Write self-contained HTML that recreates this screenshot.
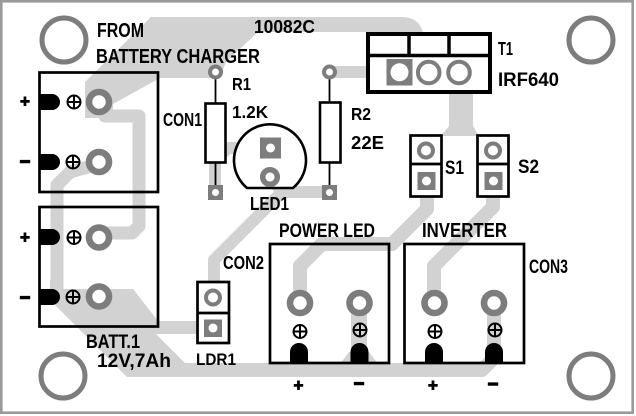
<!DOCTYPE html>
<html>
<head>
<meta charset="utf-8">
<style>
html,body{margin:0;padding:0;background:#fff;}
svg{display:block;}
text{font-family:"Liberation Sans",Arial,sans-serif;font-weight:bold;fill:#000;}
</style>
</head>
<body>
<svg width="636" height="416" viewBox="0 0 636 416" xmlns="http://www.w3.org/2000/svg">
<rect x="0" y="0" width="636" height="416" fill="#fff"/>
<rect x="1.3" y="1.3" width="631.4" height="411.4" fill="none" stroke="#9a9a9a" stroke-width="2.6"/>

<!-- traces -->
<g fill="#d2d2d2" stroke="none">
  <polygon points="151,17 258,17 258,32 226,62 220,78 160,78 113,104 113,118 85,118 85,82"/>
  <polygon points="50,280 64,289 133,289 158,321 213,321 213,334 156,334 185,363 190,377 127,377 50,300"/>
  <polygon points="449,88 473,88 473,126 479,136 441,136 449,126"/>
  <polygon points="349,352 369,352 378,364 340,364"/>
</g>
<g fill="none" stroke="#d2d2d2" stroke-linejoin="round">
  <path d="M150,24.5 H402 Q416,24.5 416,39 V50" stroke-width="15"/>
  <path d="M99,105 L105,116 H139 V226 L132,233 H99" stroke-width="13"/>
  <path d="M99,164 L70,172 L57,185 V290" stroke-width="13"/>
  <path d="M494,303 V358 L482,370 H150" stroke-width="14"/>
  <path d="M359,303 V362" stroke-width="16"/>
  <path d="M300,303 V266 L322,244 H392 L427,209 V181" stroke-width="14"/>
  <path d="M434,303 V266 L493,207 V181" stroke-width="14"/>
  <path d="M270,177 L282,192 H329" stroke-width="12"/>
  <path d="M282,192 L270,204 L214,260 V298" stroke-width="12"/>
  <path d="M215,192 V160 L228,148 H270" stroke-width="12"/>
  <path d="M329,72 H399" stroke-width="12"/>
</g>

<!-- mounting holes -->
<g fill="none" stroke="#7d7d7d" stroke-width="5">
  <circle cx="64" cy="40" r="22"/>
  <circle cx="591" cy="40" r="22"/>
  <circle cx="63" cy="376" r="22"/>
  <circle cx="591" cy="376" r="22"/>
</g>

<!-- terminal block boxes -->
<g fill="none" stroke="#000" stroke-width="2.7">
  <rect x="39.5" y="72.5" width="118.5" height="119.5"/>
  <rect x="39.5" y="207" width="118.5" height="119.5"/>
  <rect x="270" y="244" width="119" height="119"/>
  <rect x="404.5" y="244" width="119.5" height="119"/>
</g>

<!-- left terminal black pads -->
<g fill="#000">
  <path d="M39,94 H52 A8,8 0 0 1 52,110 H39 Z"/>
  <path d="M39,154 H52 A8,8 0 0 1 52,170 H39 Z"/>
  <path d="M39,229 H52 A8,8 0 0 1 52,245 H39 Z"/>
  <path d="M39,289 H52 A8,8 0 0 1 52,305 H39 Z"/>
  <!-- bottom pads -->
  <path d="M290,363 V352 A9,9 0 0 1 308,352 V363 Z"/>
  <path d="M350.5,363 V352 A9,9 0 0 1 368.5,352 V363 Z"/>
  <path d="M425,363 V352 A9,9 0 0 1 443,352 V363 Z"/>
  <path d="M485,363 V352 A9,9 0 0 1 503,352 V363 Z"/>
</g>

<!-- ⊕ symbols -->
<g fill="none" stroke="#000" stroke-width="2">
  <g transform="translate(74,102)"><circle r="6.5"/><path d="M-6.5,0 H6.5 M0,-6.5 V6.5"/></g>
  <g transform="translate(73,162)"><circle r="6.5"/><path d="M-6.5,0 H6.5 M0,-6.5 V6.5"/></g>
  <g transform="translate(74,237.5)"><circle r="6.5"/><path d="M-6.5,0 H6.5 M0,-6.5 V6.5"/></g>
  <g transform="translate(73,297)"><circle r="6.5"/><path d="M-6.5,0 H6.5 M0,-6.5 V6.5"/></g>
  <g transform="translate(300,331.5)"><circle r="6.5"/><path d="M-6.5,0 H6.5 M0,-6.5 V6.5"/></g>
  <g transform="translate(360,330)"><circle r="6.5"/><path d="M-6.5,0 H6.5 M0,-6.5 V6.5"/></g>
  <g transform="translate(435,331.5)"><circle r="6.5"/><path d="M-6.5,0 H6.5 M0,-6.5 V6.5"/></g>
  <g transform="translate(495,330)"><circle r="6.5"/><path d="M-6.5,0 H6.5 M0,-6.5 V6.5"/></g>
</g>

<!-- ring pads -->
<g fill="#fff" stroke="#7d7d7d" stroke-width="6.6">
  <circle cx="99" cy="102" r="10"/>
  <circle cx="99" cy="162" r="10"/>
  <circle cx="99" cy="237.5" r="10"/>
  <circle cx="99" cy="296.5" r="10"/>
  <circle cx="300" cy="303" r="10"/>
  <circle cx="359.5" cy="303" r="10"/>
  <circle cx="434.5" cy="303" r="10"/>
  <circle cx="494" cy="303" r="10"/>
</g>

<!-- T1 -->
<rect x="368" y="34" width="122" height="58" fill="#fff" stroke="#000" stroke-width="4"/>
<path d="M368,55.5 H490 M409,36 V55 M449,36 V55" stroke="#000" stroke-width="3.5" fill="none"/>
<rect x="386.5" y="59" width="26" height="26.5" fill="#7d7d7d"/>
<circle cx="399.5" cy="72.3" r="9" fill="#fff"/>
<circle cx="428.7" cy="72.5" r="10.8" fill="#fff" stroke="#7d7d7d" stroke-width="4"/>
<circle cx="459" cy="72.5" r="10.8" fill="#fff" stroke="#7d7d7d" stroke-width="4"/>

<!-- R1 -->
<line x1="215.5" y1="76" x2="215.5" y2="188" stroke="#000" stroke-width="1.8"/>
<rect x="205.5" y="103.5" width="20" height="59" fill="#fff" stroke="#000" stroke-width="2.6"/>
<circle cx="215.5" cy="72" r="5.5" fill="#fff" stroke="#7d7d7d" stroke-width="4"/>
<rect x="208" y="185" width="15" height="15" fill="#7d7d7d"/>
<circle cx="215.5" cy="192.5" r="3.5" fill="#fff"/>

<!-- R2 -->
<line x1="329.5" y1="76" x2="329.5" y2="188" stroke="#000" stroke-width="1.8"/>
<rect x="320" y="102.5" width="20.5" height="60" fill="#fff" stroke="#000" stroke-width="2.6"/>
<circle cx="329.5" cy="72" r="5.5" fill="#fff" stroke="#7d7d7d" stroke-width="4"/>
<rect x="322" y="185" width="15" height="15" fill="#7d7d7d"/>
<circle cx="329.5" cy="192.5" r="3.5" fill="#fff"/>

<!-- LED1 -->
<path d="M247,188 A36,36 0 1 1 293,188 Z" fill="#fff" stroke="#000" stroke-width="2.6"/>
<rect x="260" y="137.5" width="21" height="21" fill="#7d7d7d"/>
<circle cx="270.5" cy="148" r="4.5" fill="#fff"/>
<circle cx="270" cy="177" r="7.3" fill="#fff" stroke="#7d7d7d" stroke-width="5.5"/>

<!-- S1, S2, LDR1 -->
<g fill="#fff" stroke="#000" stroke-width="2.7">
  <rect x="410.5" y="135.5" width="31" height="61"/>
  <rect x="477.5" y="135.5" width="31" height="61"/>
  <rect x="197.5" y="282" width="31.5" height="61"/>
</g>
<path d="M410.5,164 H441.5 M477.5,164 H508.5 M197.5,313 H229" stroke="#000" stroke-width="2.7"/>
<g fill="#fff" stroke="#7d7d7d" stroke-width="4">
  <circle cx="426" cy="150.5" r="7"/>
  <circle cx="493" cy="150.5" r="7"/>
  <circle cx="213" cy="297.5" r="7"/>
</g>
<g fill="#7d7d7d">
  <rect x="417.5" y="172" width="18" height="18"/>
  <rect x="484.5" y="172" width="18" height="18"/>
  <rect x="204" y="319.5" width="18" height="17.5"/>
</g>
<g fill="#fff">
  <circle cx="426.5" cy="181" r="4.5"/>
  <circle cx="493.5" cy="181" r="4.5"/>
  <circle cx="213" cy="328" r="4.5"/>
</g>

<!-- labels -->
<text x="97" y="37" font-size="20.5" textLength="47" lengthAdjust="spacingAndGlyphs">FROM</text>
<text x="96" y="63" font-size="20.5" textLength="164" lengthAdjust="spacingAndGlyphs">BATTERY CHARGER</text>
<text x="254" y="33" font-size="18.5" textLength="61" lengthAdjust="spacingAndGlyphs">10082C</text>
<text x="232" y="90" font-size="17.5" textLength="19" lengthAdjust="spacingAndGlyphs">R1</text>
<text x="232" y="118" font-size="17.5" textLength="36" lengthAdjust="spacingAndGlyphs">1.2K</text>
<text x="163" y="126" font-size="18" textLength="39" lengthAdjust="spacingAndGlyphs">CON1</text>
<text x="250" y="210" font-size="18.5" textLength="39" lengthAdjust="spacingAndGlyphs">LED1</text>
<text x="351" y="120" font-size="17.5" textLength="20" lengthAdjust="spacingAndGlyphs">R2</text>
<text x="351" y="149" font-size="18" textLength="33" lengthAdjust="spacingAndGlyphs">22E</text>
<text x="498" y="55" font-size="18.5" textLength="15" lengthAdjust="spacingAndGlyphs">T1</text>
<text x="498" y="86" font-size="19" textLength="61" lengthAdjust="spacingAndGlyphs">IRF640</text>
<text x="445" y="174" font-size="19" textLength="19" lengthAdjust="spacingAndGlyphs">S1</text>
<text x="518" y="173" font-size="19" textLength="21" lengthAdjust="spacingAndGlyphs">S2</text>
<text x="223" y="269" font-size="18.5" textLength="41" lengthAdjust="spacingAndGlyphs">CON2</text>
<text x="86" y="348" font-size="19" textLength="54" lengthAdjust="spacingAndGlyphs">BATT.1</text>
<text x="97" y="367" font-size="19" textLength="74" lengthAdjust="spacingAndGlyphs">12V,7Ah</text>
<text x="196" y="365" font-size="17" textLength="40" lengthAdjust="spacingAndGlyphs">LDR1</text>
<text x="279" y="237" font-size="19.5" textLength="96" lengthAdjust="spacingAndGlyphs">POWER LED</text>
<text x="422" y="237" font-size="20" textLength="85" lengthAdjust="spacingAndGlyphs">INVERTER</text>
<text x="529" y="273" font-size="19.5" textLength="39" lengthAdjust="spacingAndGlyphs">CON3</text>

<!-- +/- signs -->
<g font-size="17" stroke="#000" stroke-width="0.9" text-anchor="middle">
  <text x="25" y="107">+</text>
  <text x="25" y="243">+</text>
  <text x="298.5" y="391">+</text>
  <text x="433" y="391">+</text>
</g>
<g font-size="18" stroke="#000" stroke-width="1.5" text-anchor="middle">
  <text x="25" y="166.5">–</text>
  <text x="25" y="302.5">–</text>
  <text x="359" y="388.5">–</text>
  <text x="493" y="389">–</text>
</g>
</svg>
</body>
</html>
